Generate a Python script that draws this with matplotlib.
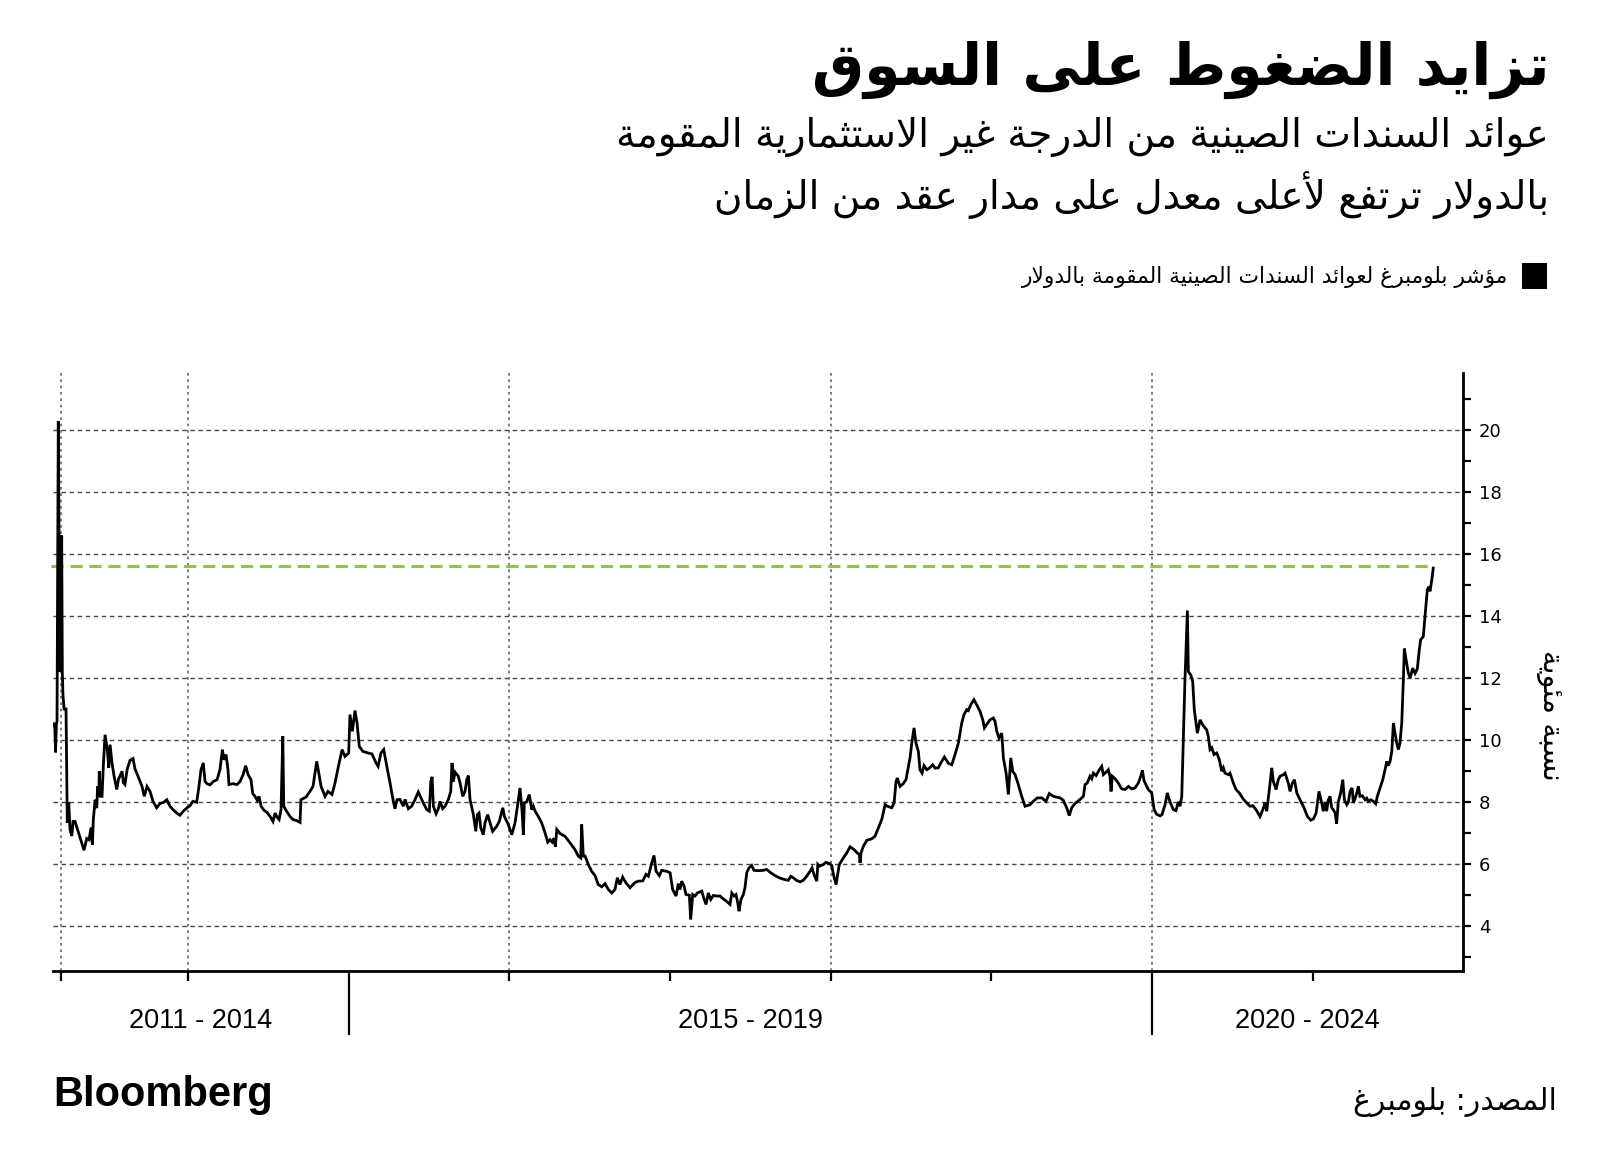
import matplotlib
matplotlib.use("Agg")
import matplotlib.pyplot as plt
import matplotlib.transforms as mtransforms
import numpy as np

# ---------------- data ----------------
dates = [
 2013.163, 2013.171, 2013.177, 2013.182, 2013.186, 2013.194, 2013.198, 2013.203, 2013.207, 2013.211,
 2013.215, 2013.219, 2013.223, 2013.230, 2013.242, 2013.250, 2013.259, 2013.267, 2013.278, 2013.286,
 2013.298, 2013.329, 2013.354, 2013.371, 2013.385, 2013.398, 2013.406, 2013.412, 2013.423, 2013.433,
 2013.439, 2013.446, 2013.449, 2013.456, 2013.466, 2013.474, 2013.485, 2013.499, 2013.508, 2013.516,
 2013.528, 2013.541, 2013.558, 2013.568, 2013.591, 2013.599, 2013.609, 2013.622, 2013.640, 2013.659,
 2013.671, 2013.690, 2013.715, 2013.729, 2013.746, 2013.765, 2013.783, 2013.806, 2013.827, 2013.848,
 2013.869, 2013.889, 2013.908, 2013.931, 2013.951, 2013.972, 2013.995, 2014.014, 2014.032, 2014.055,
 2014.068, 2014.082, 2014.096, 2014.107, 2014.119, 2014.138, 2014.159, 2014.182, 2014.200, 2014.215,
 2014.225, 2014.238, 2014.250, 2014.256, 2014.281, 2014.306, 2014.325, 2014.344, 2014.360, 2014.375,
 2014.393, 2014.404, 2014.418, 2014.432, 2014.443, 2014.456, 2014.474, 2014.493, 2014.512, 2014.530,
 2014.543, 2014.555, 2014.568, 2014.580, 2014.591, 2014.597, 2014.611, 2014.636, 2014.655, 2014.680,
 2014.698, 2014.704, 2014.736, 2014.760, 2014.779, 2014.802, 2014.815, 2014.829, 2014.854, 2014.872,
 2014.897, 2014.916, 2014.935, 2014.960, 2014.978, 2015.001, 2015.009, 2015.024, 2015.040, 2015.053,
 2015.067, 2015.090, 2015.121, 2015.146, 2015.171, 2015.184, 2015.202, 2015.219, 2015.240, 2015.258,
 2015.277, 2015.289, 2015.302, 2015.320, 2015.341, 2015.352, 2015.372, 2015.393, 2015.414, 2015.434,
 2015.465, 2015.487, 2015.503, 2015.512, 2015.520, 2015.528, 2015.545, 2015.559, 2015.569, 2015.586,
 2015.601, 2015.621, 2015.636, 2015.644, 2015.652, 2015.663, 2015.683, 2015.694, 2015.711, 2015.725,
 2015.736, 2015.746, 2015.756, 2015.777, 2015.792, 2015.802, 2015.812, 2015.823, 2015.839, 2015.849,
 2015.866, 2015.881, 2015.897, 2015.922, 2015.938, 2015.960, 2015.970, 2015.994, 2016.016, 2016.036,
 2016.050, 2016.067, 2016.080, 2016.088, 2016.094, 2016.109, 2016.125, 2016.140, 2016.150, 2016.161,
 2016.181, 2016.202, 2016.223, 2016.240, 2016.254, 2016.268, 2016.279, 2016.287, 2016.296, 2016.316,
 2016.347, 2016.378, 2016.409, 2016.430, 2016.445, 2016.451, 2016.461, 2016.472, 2016.492, 2016.513,
 2016.534, 2016.554, 2016.576, 2016.596, 2016.617, 2016.638, 2016.658, 2016.673, 2016.689, 2016.706,
 2016.727, 2016.752, 2016.783, 2016.803, 2016.831, 2016.851, 2016.866, 2016.887, 2016.901, 2016.914,
 2016.934, 2016.949, 2016.980, 2017.001, 2017.017, 2017.038, 2017.052, 2017.063, 2017.073, 2017.088,
 2017.100, 2017.121, 2017.129, 2017.142, 2017.156, 2017.171, 2017.198, 2017.212, 2017.225, 2017.239,
 2017.254, 2017.270, 2017.291, 2017.312, 2017.332, 2017.353, 2017.374, 2017.385, 2017.399, 2017.411,
 2017.422, 2017.430, 2017.442, 2017.457, 2017.467, 2017.478, 2017.492, 2017.509, 2017.523, 2017.550,
 2017.581, 2017.602, 2017.623, 2017.654, 2017.685, 2017.716, 2017.737, 2017.752, 2017.768, 2017.789,
 2017.810, 2017.830, 2017.851, 2017.872, 2017.884, 2017.897, 2017.914, 2017.920, 2017.930, 2017.955,
 2017.971, 2017.992, 2018.007, 2018.017, 2018.034, 2018.042, 2018.054, 2018.079, 2018.100, 2018.121,
 2018.146, 2018.166, 2018.179, 2018.183, 2018.189, 2018.204, 2018.225, 2018.256, 2018.276, 2018.297,
 2018.318, 2018.339, 2018.353, 2018.380, 2018.395, 2018.407, 2018.415, 2018.432, 2018.452, 2018.469,
 2018.484, 2018.494, 2018.505, 2018.519, 2018.531, 2018.546, 2018.556, 2018.569, 2018.581, 2018.598,
 2018.614, 2018.635, 2018.650, 2018.670, 2018.691, 2018.708, 2018.732, 2018.754, 2018.774, 2018.795,
 2018.816, 2018.830, 2018.847, 2018.857, 2018.872, 2018.892, 2018.909, 2018.930, 2018.947, 2018.957,
 2018.971, 2018.992, 2019.013, 2019.023, 2019.034, 2019.048, 2019.065, 2019.075, 2019.092, 2019.106,
 2019.121, 2019.133, 2019.148, 2019.168, 2019.189, 2019.210, 2019.241, 2019.261, 2019.286, 2019.314,
 2019.340, 2019.361, 2019.386, 2019.428, 2019.448, 2019.469, 2019.485, 2019.500, 2019.521, 2019.552,
 2019.573, 2019.583, 2019.597, 2019.614, 2019.625, 2019.635, 2019.652, 2019.672, 2019.687, 2019.697,
 2019.718, 2019.728, 2019.739, 2019.745, 2019.753, 2019.770, 2019.790, 2019.811, 2019.832, 2019.853,
 2019.874, 2019.894, 2019.915, 2019.930, 2019.940, 2019.950, 2019.967, 2019.977, 2019.998, 2020.013,
 2020.029, 2020.050, 2020.062, 2020.081, 2020.095, 2020.112, 2020.133, 2020.149, 2020.164, 2020.174,
 2020.185, 2020.195, 2020.205, 2020.220, 2020.226, 2020.241, 2020.253, 2020.263, 2020.282, 2020.299,
 2020.309, 2020.319, 2020.340, 2020.350, 2020.361, 2020.372, 2020.386, 2020.403, 2020.419, 2020.434,
 2020.444, 2020.454, 2020.475, 2020.485, 2020.506, 2020.523, 2020.543, 2020.568, 2020.589, 2020.610,
 2020.627, 2020.647, 2020.672, 2020.693, 2020.703, 2020.714, 2020.730, 2020.745, 2020.755, 2020.772,
 2020.786, 2020.797, 2020.817, 2020.828, 2020.848, 2020.859, 2020.873, 2020.886, 2020.901, 2020.921,
 2020.946, 2020.967, 2020.988, 2021.004, 2021.021, 2021.039, 2021.056, 2021.066, 2021.077, 2021.087,
 2021.097, 2021.108, 2021.118, 2021.128, 2021.139, 2021.149, 2021.159, 2021.174, 2021.187, 2021.197,
 2021.212, 2021.222, 2021.232, 2021.245, 2021.253, 2021.263, 2021.274, 2021.284, 2021.294, 2021.309,
 2021.326, 2021.336, 2021.346, 2021.361, 2021.377, 2021.392, 2021.402, 2021.419, 2021.436, 2021.450,
 2021.461, 2021.470, 2021.481, 2021.492, 2021.502, 2021.512, 2021.523, 2021.533, 2021.543, 2021.554,
 2021.564, 2021.570, 2021.581, 2021.595, 2021.606, 2021.622, 2021.637, 2021.651, 2021.663, 2021.672,
 2021.688, 2021.699, 2021.713, 2021.724, 2021.730, 2021.741, 2021.750,
]

yields = [
 10.49, 10.55, 9.60, 10.50, 10.60, 20.30, 17.00, 12.20, 16.60, 14.00,
 16.60, 12.20, 11.46, 11.00, 11.00, 7.33, 7.98, 7.10, 6.90, 7.37,
 7.37, 6.85, 6.44, 6.82, 6.78, 7.17, 6.62, 7.43, 8.07, 7.80,
 8.50, 8.18, 8.99, 8.18, 8.18, 9.15, 10.17, 9.69, 9.10, 9.85,
 9.27, 8.83, 8.40, 8.72, 8.99, 8.62, 8.56, 9.04, 9.34, 9.40,
 9.07, 8.83, 8.50, 8.18, 8.50, 8.34, 8.02, 7.81, 7.95, 7.98,
 8.07, 7.86, 7.75, 7.64, 7.57, 7.70, 7.81, 7.88, 8.02, 7.99,
 8.45, 9.04, 9.26, 8.66, 8.59, 8.55, 8.66, 8.72, 9.04, 9.69,
 9.36, 9.53, 9.04, 8.56, 8.59, 8.56, 8.66, 8.88, 9.17, 8.88,
 8.72, 8.27, 8.18, 8.05, 8.18, 7.86, 7.73, 7.66, 7.53, 7.37,
 7.64, 7.51, 7.43, 7.75, 10.12, 7.86, 7.73, 7.53, 7.43, 7.39,
 7.34, 8.07, 8.16, 8.34, 8.50, 9.31, 8.93, 8.50, 8.18, 8.34,
 8.24, 8.61, 9.10, 9.69, 9.47, 9.58, 10.82, 10.28, 10.95, 10.55,
 9.79, 9.63, 9.58, 9.55, 9.26, 9.15, 9.58, 9.69, 9.10, 8.62,
 8.07, 7.78, 8.07, 8.08, 7.86, 8.08, 7.78, 7.86, 8.08, 8.32,
 7.97, 7.75, 7.70, 8.66, 8.81, 7.86, 7.62, 7.78, 8.02, 7.78,
 7.86, 8.08, 8.34, 9.26, 8.66, 8.96, 8.83, 8.61, 8.18, 8.34,
 8.72, 8.85, 8.08, 7.59, 7.05, 7.59, 7.64, 7.16, 6.94, 7.32,
 7.59, 7.32, 7.05, 7.21, 7.37, 7.81, 7.53, 7.27, 6.94, 7.32,
 7.81, 8.45, 7.70, 6.94, 7.97, 8.00, 8.24, 7.75, 7.86, 7.70,
 7.53, 7.32, 7.00, 6.70, 6.78, 6.70, 6.83, 6.55, 7.11, 6.98,
 6.89, 6.68, 6.46, 6.25, 6.19, 7.27, 6.25, 6.25, 5.98, 5.76,
 5.62, 5.33, 5.26, 5.36, 5.17, 5.06, 5.17, 5.55, 5.33, 5.57,
 5.38, 5.23, 5.40, 5.44, 5.45, 5.66, 5.60, 6.03, 6.27, 5.76,
 5.62, 5.79, 5.76, 5.71, 5.17, 4.96, 5.36, 5.17, 5.44, 5.28,
 5.01, 4.99, 4.20, 5.01, 4.96, 5.06, 5.12, 4.87, 4.69, 5.06,
 4.85, 4.98, 4.96, 4.96, 4.87, 4.79, 4.69, 5.06, 4.96, 5.01,
 4.74, 4.47, 4.85, 5.01, 5.23, 5.71, 5.87, 5.95, 5.79, 5.78,
 5.79, 5.82, 5.73, 5.62, 5.54, 5.49, 5.47, 5.60, 5.55, 5.46,
 5.42, 5.47, 5.60, 5.76, 5.87, 5.65, 5.44, 5.98, 5.92, 5.98,
 6.05, 6.01, 5.95, 5.66, 5.33, 5.60, 5.98, 6.19, 6.35, 6.55,
 6.46, 6.35, 6.30, 6.03, 6.35, 6.57, 6.76, 6.81, 6.89, 7.16,
 7.43, 7.91, 7.86, 7.81, 7.97, 8.66, 8.77, 8.50, 8.59, 8.72,
 9.15, 9.42, 9.90, 10.39, 9.90, 9.63, 9.04, 8.93, 9.17, 9.04,
 9.09, 9.20, 9.09, 9.10, 9.31, 9.45, 9.25, 9.20, 9.53, 9.90,
 10.55, 10.82, 10.98, 10.95, 11.14, 11.30, 11.14, 10.92, 10.65, 10.39,
 10.50, 10.65, 10.71, 10.60, 10.28, 10.06, 10.22, 9.42, 8.93, 8.24,
 9.42, 8.99, 8.88, 8.56, 8.18, 7.86, 7.91, 8.02, 8.13, 8.13,
 8.02, 8.27, 8.18, 8.13, 8.05, 7.81, 7.56, 7.81, 7.95, 8.08,
 8.18, 8.56, 8.61, 8.83, 8.75, 8.93, 8.85, 9.04, 9.15, 8.88,
 8.98, 9.04, 8.80, 8.34, 8.83, 8.75, 8.61, 8.42, 8.40, 8.50,
 8.42, 8.45, 8.61, 8.83, 9.02, 8.69, 8.50, 8.40, 8.29, 7.75,
 7.60, 7.55, 7.59, 7.91, 8.29, 8.00, 7.75, 7.72, 8.00, 7.86,
 8.18, 10.00, 11.94, 14.18, 12.21, 12.10, 11.89, 10.98, 10.22, 10.65,
 10.55, 10.46, 10.33, 10.12, 9.69, 9.75, 9.53, 9.58, 9.36, 8.99,
 9.10, 8.93, 8.88, 8.93, 8.61, 8.40, 8.29, 8.09, 7.97, 7.86,
 7.88, 7.75, 7.53, 7.80, 7.97, 7.70, 8.40, 9.10, 8.66, 8.40,
 8.72, 8.83, 8.88, 8.93, 8.61, 8.34, 8.60, 8.72, 8.29, 8.07,
 7.81, 7.53, 7.41, 7.45, 7.64, 8.34, 7.97, 7.70, 8.00, 7.70,
 8.07, 8.18, 7.81, 7.75, 7.65, 7.30, 8.00, 8.29, 8.72, 8.07,
 7.91, 8.00, 8.34, 8.45, 7.97, 8.10, 8.29, 8.50, 8.18, 8.20,
 8.07, 8.12, 8.02, 8.07, 8.02, 7.94, 8.18, 8.45, 8.72, 9.04,
 9.31, 9.17, 9.30, 9.63, 10.55, 10.22, 9.90, 9.69, 9.90, 10.55,
 11.94, 12.95, 12.59, 12.16, 12.00, 12.32, 12.15, 12.30, 12.91, 13.24,
 13.34, 13.99, 14.85, 14.95, 14.80, 15.17, 15.55,
]

reference_level = 15.61          # green dashed line (current level)
y_major_ticks = [4, 6, 8, 10, 12, 14, 16, 18, 20]
y_minor_ticks = [3, 5, 7, 9, 11, 13, 15, 17, 19, 21]
x_short_ticks = [2013.21, 2014, 2016, 2017, 2018, 2019, 2021]
x_period_breaks = [2015, 2020]
x_grid = [2013.21, 2014, 2016, 2018, 2020]
period_labels = ["2011 - 2014", "2015 - 2019", "2020 - 2024"]
x_limits = (2013.161, 2021.937)
y_limits = (2.54, 21.86)

title = "تزايد الضغوط على السوق"
subtitle_1 = "عوائد السندات الصينية من الدرجة غير الاستثمارية المقومة"
subtitle_2 = "بالدولار ترتفع لأعلى معدل على مدار عقد من الزمان"
legend_label = "مؤشر بلومبرغ لعوائد السندات الصينية المقومة بالدولار"
y_label = "نسبة مئوية"
source = "المصدر: بلومبرغ"
brand = "Bloomberg"

# ---------------- Arabic shaping (contextual forms + RTL order) ----------------
_FORMS = {
    '\u0621': (0xFE80, 1), '\u0622': (0xFE81, 2), '\u0623': (0xFE83, 2), '\u0624': (0xFE85, 2),
    '\u0625': (0xFE87, 2), '\u0626': (0xFE89, 4), '\u0627': (0xFE8D, 2), '\u0628': (0xFE8F, 4),
    '\u0629': (0xFE93, 2), '\u062A': (0xFE95, 4), '\u062B': (0xFE99, 4), '\u062C': (0xFE9D, 4),
    '\u062D': (0xFEA1, 4), '\u062E': (0xFEA5, 4), '\u062F': (0xFEA9, 2), '\u0630': (0xFEAB, 2),
    '\u0631': (0xFEAD, 2), '\u0632': (0xFEAF, 2), '\u0633': (0xFEB1, 4), '\u0634': (0xFEB5, 4),
    '\u0635': (0xFEB9, 4), '\u0636': (0xFEBD, 4), '\u0637': (0xFEC1, 4), '\u0638': (0xFEC5, 4),
    '\u0639': (0xFEC9, 4), '\u063A': (0xFECD, 4), '\u0641': (0xFED1, 4), '\u0642': (0xFED5, 4),
    '\u0643': (0xFED9, 4), '\u0644': (0xFEDD, 4), '\u0645': (0xFEE1, 4), '\u0646': (0xFEE5, 4),
    '\u0647': (0xFEE9, 4), '\u0648': (0xFEED, 2), '\u0649': (0xFEEF, 2), '\u064A': (0xFEF1, 4),
}
_LAMALEF = {'\u0622': 0xFEF5, '\u0623': 0xFEF7, '\u0625': 0xFEF9, '\u0627': 0xFEFB}


def shape(s):
    n = len(s)

    def joins_prev(i):
        return (i > 0 and s[i - 1] in _FORMS and _FORMS[s[i - 1]][1] == 4
                and s[i] in _FORMS and _FORMS[s[i]][1] != 1)

    out = []
    i = 0
    while i < n:
        c = s[i]
        if c == '\u0644' and i + 1 < n and s[i + 1] in _LAMALEF:
            out.append(chr(_LAMALEF[s[i + 1]] + (1 if joins_prev(i) else 0)))
            i += 2
            continue
        if c in _FORMS:
            base, k = _FORMS[c]
            p = joins_prev(i)
            nx = (k == 4 and i + 1 < n and s[i + 1] in _FORMS and _FORMS[s[i + 1]][1] != 1)
            if k == 1:
                f = 0
            elif p and nx:
                f = 3
            elif nx:
                f = 2
            elif p:
                f = 1
            else:
                f = 0
            out.append(chr(base + f))
        else:
            out.append(c)
        i += 1
    return ''.join(reversed(out))


# ---------------- figure ----------------
W, H = 1600, 1173
fig = plt.figure(figsize=(16, 11.73), dpi=100)
fig.patch.set_facecolor("white")

def fx(px):
    return px / W

def fy(py):
    return 1 - py / H

ax = fig.add_axes([fx(53), fy(971), fx(1463.3) - fx(53), fy(372.7) - fy(971)])
ax.set_xlim(*x_limits)
ax.set_ylim(*y_limits)

# grid
for yv in y_major_ticks:
    ax.axhline(yv, color="#444444", lw=1.0, ls=(0, (3.2, 2.6)), zorder=1)
for xv in x_grid:
    ax.axvline(xv, color="#666666", lw=1.2, ls=(0, (1.6, 2.2)), zorder=1)

# current-level line
ax.hlines(reference_level, x_limits[0] - 0.01, dates[-1], color="#8dc63f", lw=2.2,
          ls=(0, (4.0, 2.2)), zorder=2, clip_on=False)

# data line
ax.plot(dates, yields, color="black", lw=2.0, zorder=3, solid_joinstyle="miter")

# spines
for side in ["left", "top"]:
    ax.spines[side].set_visible(False)
for side in ["right", "bottom"]:
    ax.spines[side].set_linewidth(2.0)
    ax.spines[side].set_color("black")

# y axis on right
ax.yaxis.tick_right()
ax.set_yticks(y_major_ticks)
ax.set_yticks(y_minor_ticks, minor=True)
ax.set_yticklabels([str(v) for v in y_major_ticks], fontsize=13, family="DejaVu Sans")
ax.tick_params(axis="y", which="both", length=6, width=1.6, direction="out", pad=5,
               colors="black", left=False, right=True)

# x ticks: short ones + long period breaks
ax.set_xticks(x_period_breaks)
ax.set_xticks(x_short_ticks, minor=True)
ax.set_xticklabels([])
ax.tick_params(axis="x", which="major", length=46, width=1.6, direction="out", colors="black")
ax.tick_params(axis="x", which="minor", length=7.5, width=1.6, direction="out", colors="black")

# period labels centred in their segments
bounds = [x_limits[0]] + x_period_breaks + [x_limits[1]]
trans = mtransforms.blended_transform_factory(ax.transData, fig.transFigure)
for i, lab in enumerate(period_labels):
    cx = 0.5 * (bounds[i] + bounds[i + 1])
    ax.text(cx, fy(1021), lab, transform=trans, ha="center", va="center",
            fontsize=19.5, family="Liberation Sans", color="black")

# texts
ar = ["DejaVu Sans"]
fig.text(fx(1549), fy(70), shape(title), ha="right", va="center", fontsize=42,
         fontweight="bold", family=ar, color="black")
fig.text(fx(1549), fy(137), shape(subtitle_1), ha="right", va="center", fontsize=28,
         family=ar, color="black")
fig.text(fx(1549), fy(195), shape(subtitle_2), ha="right", va="center", fontsize=28,
         family=ar, color="black")

# legend
fig.patches.append(plt.Rectangle((fx(1522), fy(289)), fx(1547) - fx(1522), fy(263) - fy(289),
                                 transform=fig.transFigure, facecolor="black", edgecolor="none"))
fig.text(fx(1508), fy(277), shape(legend_label), ha="right", va="center", fontsize=15.7,
         family=ar, color="black")

# y label
fig.text(fx(1550), fy(715), shape(y_label), rotation=270, ha="center", va="center",
         fontsize=21, family=ar, color="black")

# footer
fig.text(fx(53), fy(1095), brand, ha="left", va="center", fontsize=30, fontweight="bold",
         family="Liberation Sans", color="black")
fig.text(fx(1557), fy(1102), shape(source), ha="right", va="center", fontsize=21.5,
         family=ar, color="black")

fig.savefig("out.png", dpi=100, facecolor="white")
